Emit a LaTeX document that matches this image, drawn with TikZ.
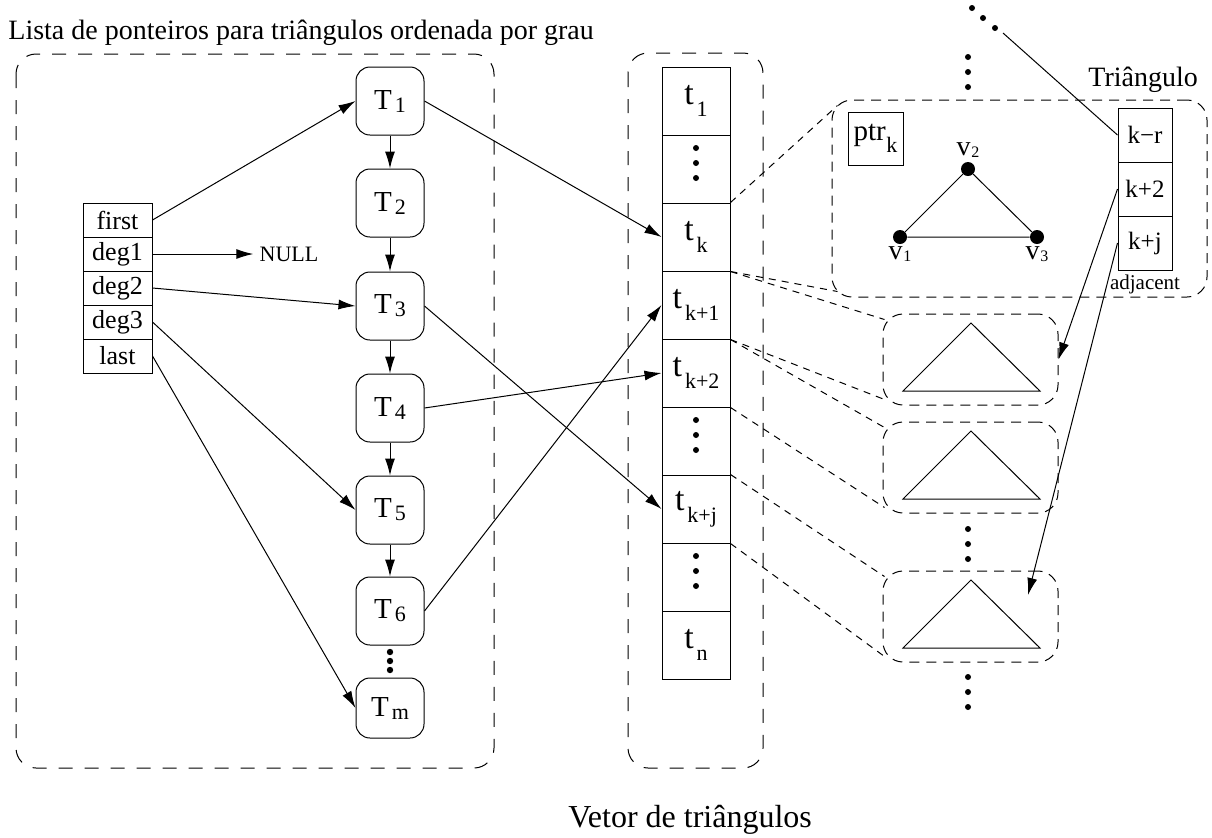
\documentclass[tikz,border=0pt]{standalone}
\usepackage{fontspec}
\setmainfont{Liberation Serif}
\usetikzlibrary{arrows.meta}

\newcommand{\fs}[1]{\fontsize{#1}{#1}\selectfont}
\newcommand{\indT}[2]{#1\kern1.5pt\raisebox{-1.5pt}{\fs{11}#2}}
\newcommand{\indt}[2]{#1\kern1.5pt\raisebox{-6pt}{\fs{11}#2}}
\newcommand{\indv}[2]{#1\kern0.3pt\raisebox{-1pt}{\fs{8}#2}}

\tikzset{
  linha/.style={line width=0.5pt},
  seta/.style={line width=0.5pt, -{Latex[length=8.5pt,width=5pt]}},
  tracejado/.style={line width=0.5pt, dash pattern=on 7pt off 6pt, rounded corners=10pt},
  tracejfino/.style={line width=0.5pt, dash pattern=on 5pt off 3.5pt, rounded corners=10pt},
  ligacao/.style={line width=0.5pt, dash pattern=on 3.5pt off 3pt},
  tcaixa/.style={draw, line width=0.5pt, rounded corners=7pt, minimum width=34pt, minimum height=34pt, inner sep=0pt, font=\fs{14.5}},
  vcel/.style={draw, line width=0.5pt, minimum width=34pt, minimum height=34pt, inner sep=0pt, font=\fs{17}},
  lcel/.style={draw, line width=0.5pt, minimum width=34.5pt, minimum height=17pt, inner sep=0pt, font=\fs{13}},
  acel/.style={draw, line width=0.5pt, minimum width=27pt, minimum height=27pt, inner sep=0pt, font=\fs{12.5}},
  vert/.style={circle, fill, inner sep=0pt, minimum size=7pt},
  tribox/.style={draw, tracejfino, minimum width=87.5pt, minimum height=45.5pt, inner sep=0pt}
}

\begin{document}
\begin{tikzpicture}[x=0.5pt, y=-0.5pt]
  \useasboundingbox (0,0) rectangle (1212,837);
  % Titulos
  \node[font=\fs{14}, anchor=base west, inner sep=0pt] (titulo) at (8,39) {Lista de ponteiros para triângulos ordenada por grau};
  \node[font=\fs{16}, anchor=base west, inner sep=0pt] (vetor) at (568,827) {Vetor de triângulos};
  \node[font=\fs{14}, anchor=base west, inner sep=0pt] (trilab) at (1088,86) {Triângulo};
  % Caixas externas
  \draw[tracejado] (16,54) rectangle (494,768);
  \draw[tracejado] (628,53) rectangle (763,768);
  % Lista
  \foreach \n [count=\i] in {first,deg1,deg2,deg3,last}
    \node[lcel] (\n) at (117.5,186+34*\i) {\n};
  \node[font=\fs{11}, inner sep=3pt] (nulo) at (289,254) {NULL};
  % Triangulos T
  \foreach \i/\y in {1/101,2/203,3/306,4/408,5/510,6/611}
    \node[tcaixa] (T\i) at (390,\y) {\indT{T}{\i}};
  \node[tcaixa, minimum height=30pt] (Tm) at (390,708) {\indT{T}{m}};
  \foreach \i [evaluate=\i as \j using int(\i+1)] in {1,...,5}
    \draw[seta] (T\i.south) -- (T\j.north);
  \foreach \d in {-1,0,1}
    \fill ([yshift=\d*4.5pt]390,661) circle (1.6pt);
  % Vetor
  \foreach \n/\txt [count=\i] in {t1/{\indt{t}{1}},vd1/{},tk/{\indt{t}{k}},tk1/{\indt{t}{k+1}},tk2/{\indt{t}{k+2}},vd2/{},tkj/{\indt{t}{k+j}},vd3/{},tn/{\indt{t}{n}}}
    \node[vcel] (\n) at (696,33+68*\i) {\txt};
  \foreach \n in {vd1,vd2,vd3}
    \foreach \d in {-1,0,1}
      \fill ([yshift=3pt+\d*7.5pt]\n.center) circle (1.5pt);
  % Setas da lista
  \draw[seta] (first.east) -- (T1.west);
  \draw[seta] (deg1.east) -- (nulo.west);
  \draw[seta] (deg2.east) -- (T3.west);
  \draw[seta] (deg3.east) -- (T5.west);
  \draw[seta] (last.east) -- (Tm.west);
  \draw[seta] (T1.east) -- (tk.west);
  \draw[seta] (T3.east) -- (tkj.west);
  \draw[seta] (T4.east) -- (tk2.west);
  \draw[seta] (T6.east) -- (tk1.west);
  % Triangulo
  \node[draw, tracejfino, minimum width=187.5pt, minimum height=98.5pt, inner sep=0pt] (tri) at (1019.5,198.5) {};
  \node[draw, linha, minimum width=27.5pt, minimum height=26.5pt, inner sep=0pt, font=\fs{14.5}] (ptr) at (875.5,138.5) {ptr\kern0.3pt\raisebox{-6pt}{\fs{11}k}};
  \node[vert, label={[font=\fs{14}, inner sep=2pt]above:\indv{v}{2}}] (v2) at (968,169) {};
  \node[vert, label={[font=\fs{14}, inner sep=1pt]below:\indv{v}{1}}] (v1) at (900,237) {};
  \node[vert, label={[font=\fs{14}, inner sep=1pt]below:\indv{v}{3}}] (v3) at (1037,237) {};
  \draw[linha] (v1) -- (v2) -- (v3) -- (v1);
  \foreach \n/\txt [count=\i] in {kr/k−r,k2/k+2,kj/k+j}
    \node[acel] (\n) at (1145,81+54*\i) {\txt};
  \node[font=\fs{10.5}, inner sep=0pt] (adj) at (1145,284) {adjacent};
  % Pontos acima
  \foreach \d in {-1,0,1}
    \fill ([yshift=\d*7.5pt]968,72) circle (1.5pt);
  \foreach \x/\y in {972/8,983/18,995/28}
    \fill (\x,\y) circle (1.5pt);
  \coordinate (topo) at (1003,33);
  \draw[linha] (topo) -- (kr.west);
  % Triangulos do vetor
  \foreach \i/\t in {1/314,2/422,3/571} {
    \node[tribox] (tb\i) at (970.5,\t+45.5) {};
    \draw[linha] (903,\t+77) -- (971,\t+9) -- (1040,\t+77) -- cycle;
  }
  \foreach \y in {544,692}
    \foreach \d in {-1,0,1}
      \fill ([yshift=\d*7.5pt]968,\y) circle (1.5pt);
  % Ligacoes tracejadas
  \draw[ligacao] (tk.north east) -- ([shift={(3pt,-3pt)}]tri.north west);
  \draw[ligacao] (tk.south east) -- ([shift={(3pt,3pt)}]tri.south west);
  \draw[ligacao] (tk.south east) -- ([shift={(1pt,-3pt)}]tb1.north west);
  \draw[ligacao] (tk1.south east) -- ([shift={(1pt,3pt)}]tb1.south west);
  \draw[ligacao] (tk1.south east) -- ([shift={(1pt,-3pt)}]tb2.north west);
  \draw[ligacao] (tk2.south east) -- ([shift={(1pt,3pt)}]tb2.south west);
  \draw[ligacao] (tkj.north east) -- ([shift={(1pt,-3pt)}]tb3.north west);
  \draw[ligacao] (tkj.south east) -- ([shift={(1pt,3pt)}]tb3.south west);
  % Setas adjacentes
  \coordinate (alvo) at (1028,595);
  \draw[seta] (k2.west) -- (tb1.east);
  \draw[seta] (kj.west) -- (alvo);
\end{tikzpicture}
\end{document}
